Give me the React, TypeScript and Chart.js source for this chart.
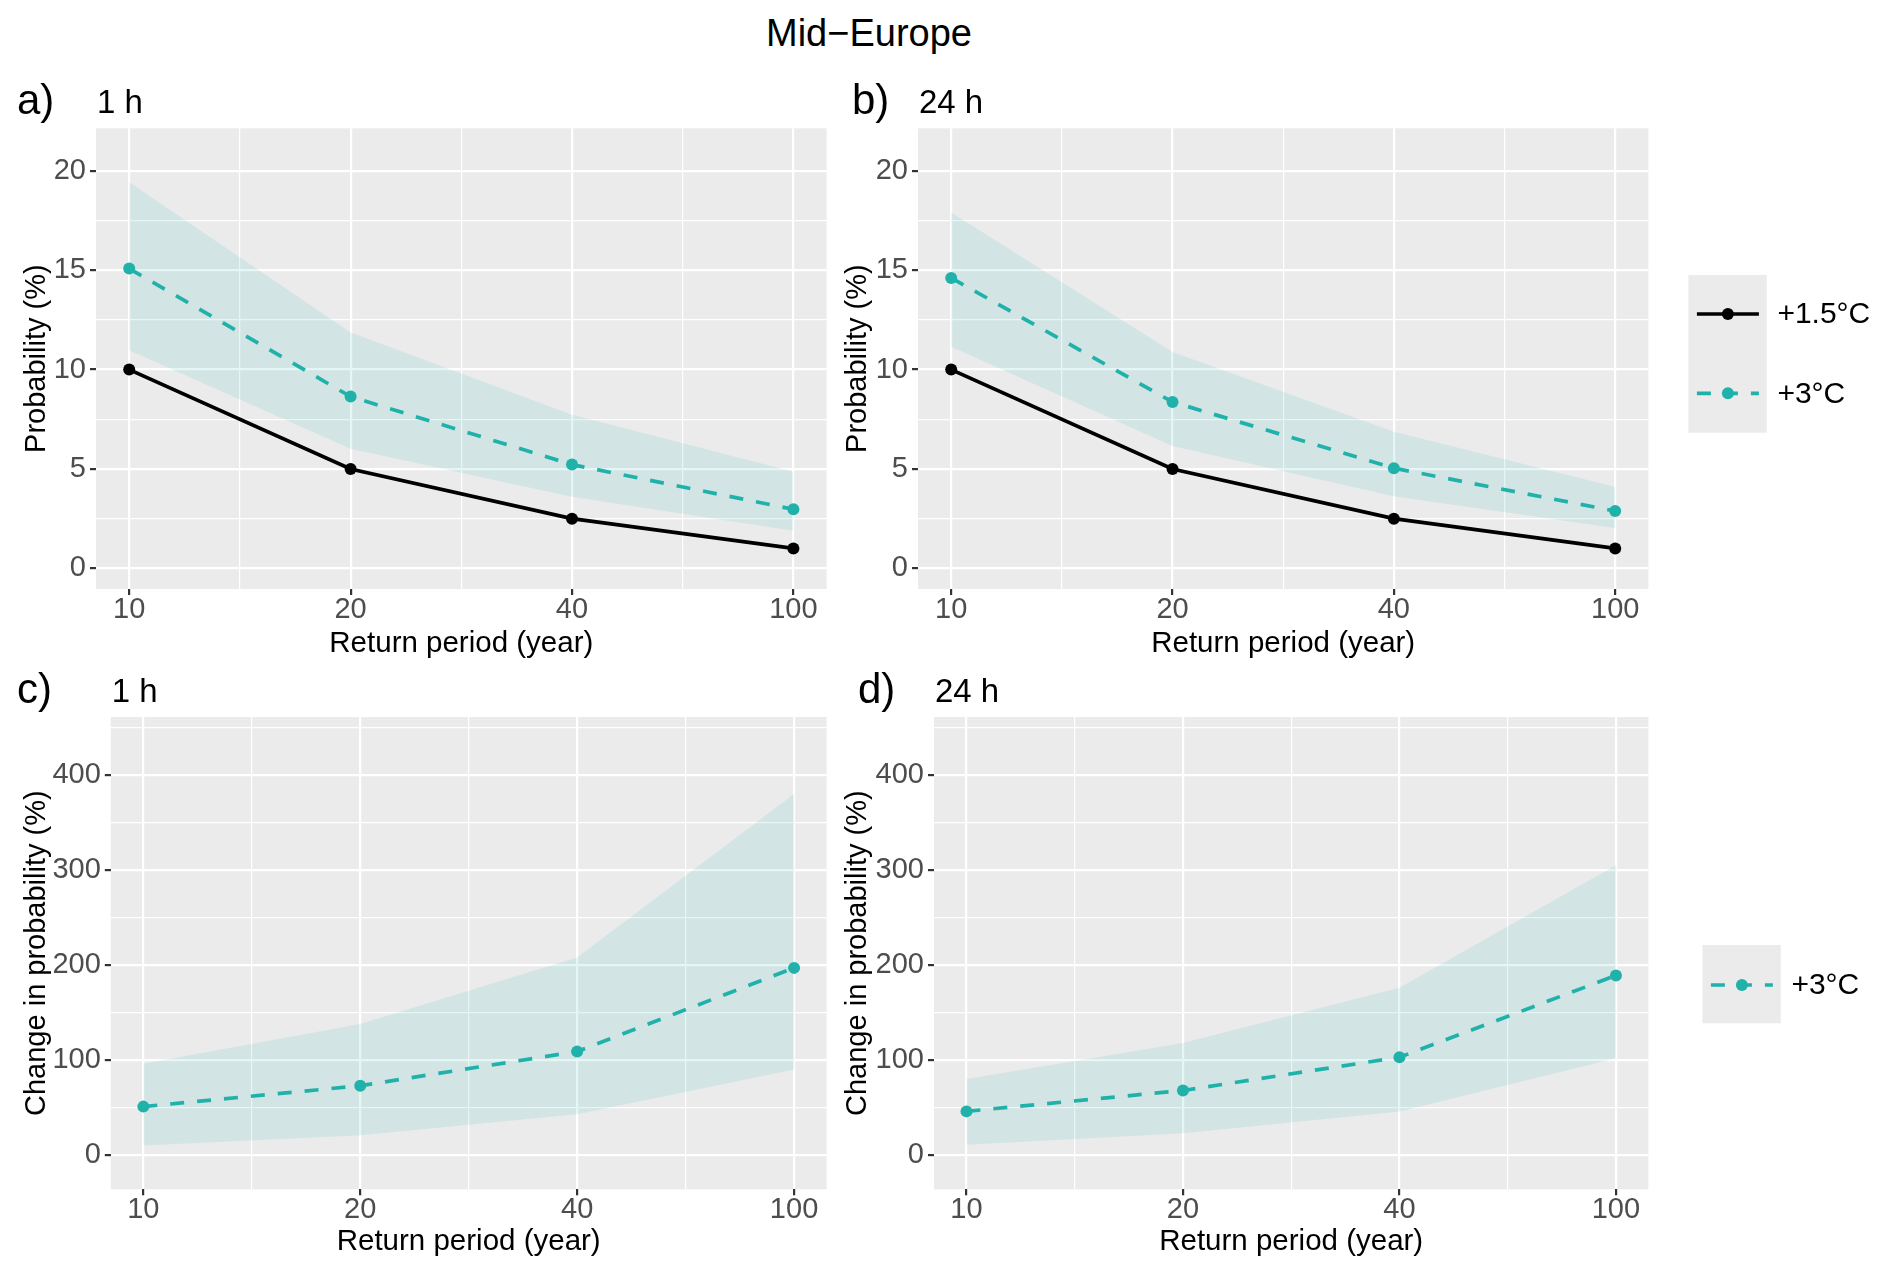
import React, { useEffect, useRef } from 'react';
import { Chart, registerables } from 'chart.js';

Chart.register(...registerables);

// ---------------- data ----------------
const returnPeriodLabels = ['10', '20', '40', '100'];
const xTickPositions = [1, 2, 3, 4];
const xMinorPositions = [1.5, 2.5, 3.5];

const probMajorTicks = [0, 5, 10, 15, 20];
const probMinorTicks = [2.5, 7.5, 12.5, 17.5];
const changeMajorTicks = [0, 100, 200, 300, 400];
const changeMinorTicks = [50, 150, 250, 350, 450];

const seriesLabels = ['+1.5°C', '+3°C'];

// probability (%) of exceedance in the +1.5°C reference world
const probBaseline = [10, 5, 2.5, 1];

// panel a) 1 h
const prob1hWarm = [15.08, 8.64, 5.22, 2.97];
const prob1hUpper = [19.43, 11.87, 7.73, 4.86];
const prob1hLower = [10.97, 6.02, 3.6, 1.89];

// panel b) 24 h
const prob24hWarm = [14.61, 8.37, 5.04, 2.88];
const prob24hUpper = [17.9, 10.88, 6.87, 4.09];
const prob24hLower = [11.15, 6.15, 3.63, 2.03];

// panel c) 1 h change in probability (%)
const change1hWarm = [51, 73, 109, 197];
const change1hUpper = [96, 138, 208, 380];
const change1hLower = [10, 21, 43, 90];

// panel d) 24 h change in probability (%)
const change24hWarm = [46, 68, 103, 189];
const change24hUpper = [80, 118, 176, 305];
const change24hLower = [11, 23, 46, 102];

// ---------------- style ----------------
const FONT = "'Liberation Sans', Arial, Helvetica, sans-serif";
const TEAL = '#20B2AA';
const RIBBON = 'rgba(32,178,170,0.12)';
const PANEL_BG = '#EBEBEB';
const TICK_TEXT = '#4D4D4D';

type LegendSpec = { dx: number; top: number; height: number; rows: number[]; items: number[] };

type PanelSpec = {
  key: string;
  x: number; y: number; w: number; h: number;
  tag: string; tagX: number; subtitle: string;
  padTop: number; padRight: number;
  yAxisWidth: number; yTitlePad: number;
  xAxisHeight: number; xTitlePad: number;
  yTitle: string; yMin: number; yMax: number;
  yMajor: number[]; yMinor: number[];
  datasets: any[];
  legend?: LegendSpec;
};

const toPoints = (vals: number[]) => vals.map((v, i) => ({ x: xTickPositions[i], y: v }));

function lineDs(label: string, vals: number[], color: string, dash: number[]) {
  return {
    label,
    data: toPoints(vals),
    borderColor: color,
    backgroundColor: color,
    borderWidth: 3.7,
    borderDash: dash,
    pointRadius: 6,
    pointHoverRadius: 6,
    pointBackgroundColor: color,
    pointBorderWidth: 0,
    fill: false,
    tension: 0,
  };
}

function ribbonDs(upper: number[], lower: number[]) {
  return [
    {
      label: 'upper',
      data: toPoints(upper),
      borderColor: 'rgba(0,0,0,0)',
      borderWidth: 0,
      pointRadius: 0,
      fill: '+1',
      backgroundColor: RIBBON,
      tension: 0,
    },
    {
      label: 'lower',
      data: toPoints(lower),
      borderColor: 'rgba(0,0,0,0)',
      borderWidth: 0,
      pointRadius: 0,
      fill: false,
      backgroundColor: RIBBON,
      tension: 0,
    },
  ];
}

const DASH = [14, 13];

const panels: PanelSpec[] = [
  {
    key: 'a', x: 0, y: 60, w: 840, h: 600,
    tag: 'a)', tagX: 17, subtitle: '1 h',
    padTop: 68.3, padRight: 13.4,
    yAxisWidth: 96, yTitlePad: 22.5,
    xAxisHeight: 71, xTitlePad: 0.9,
    yTitle: 'Probability (%)', yMin: -1.04, yMax: 22.14,
    yMajor: probMajorTicks, yMinor: probMinorTicks,
    datasets: [
      lineDs(seriesLabels[1], prob1hWarm, TEAL, DASH),
      lineDs(seriesLabels[0], probBaseline, '#000000', []),
      ...ribbonDs(prob1hUpper, prob1hLower),
    ],
  },
  {
    key: 'b', x: 840, y: 60, w: 1052, h: 600,
    tag: 'b)', tagX: 12, subtitle: '24 h',
    padTop: 68.3, padRight: 243.6,
    yAxisWidth: 78, yTitlePad: 3,
    xAxisHeight: 71, xTitlePad: 0.9,
    yTitle: 'Probability (%)', yMin: -1.04, yMax: 22.14,
    yMajor: probMajorTicks, yMinor: probMinorTicks,
    datasets: [
      lineDs(seriesLabels[1], prob24hWarm, TEAL, DASH),
      lineDs(seriesLabels[0], probBaseline, '#000000', []),
      ...ribbonDs(prob24hUpper, prob24hLower),
    ],
    legend: { dx: 40, top: 215, height: 157.7, rows: [254, 333.3], items: [1, 0] },
  },
  {
    key: 'c', x: 0, y: 660, w: 840, h: 616,
    tag: 'c)', tagX: 17, subtitle: '1 h',
    padTop: 57, padRight: 13.4,
    yAxisWidth: 110.8, yTitlePad: 22.8,
    xAxisHeight: 86.7, xTitlePad: 19,
    yTitle: 'Change in probability (%)', yMin: -36, yMax: 461,
    yMajor: changeMajorTicks, yMinor: changeMinorTicks,
    datasets: [
      lineDs(seriesLabels[1], change1hWarm, TEAL, DASH),
      ...ribbonDs(change1hUpper, change1hLower),
    ],
  },
  {
    key: 'd', x: 840, y: 660, w: 1052, h: 616,
    tag: 'd)', tagX: 18, subtitle: '24 h',
    padTop: 57, padRight: 243.6,
    yAxisWidth: 94, yTitlePad: 3,
    xAxisHeight: 86.7, xTitlePad: 19,
    yTitle: 'Change in probability (%)', yMin: -36, yMax: 461,
    yMajor: changeMajorTicks, yMinor: changeMinorTicks,
    datasets: [
      lineDs(seriesLabels[1], change24hWarm, TEAL, DASH),
      ...ribbonDs(change24hUpper, change24hLower),
    ],
    legend: { dx: 54, top: 285, height: 78.3, rows: [325], items: [0] },
  },
];

function makePlugin(spec: PanelSpec) {
  return {
    id: 'panelDecor' + spec.key,
    beforeDraw(chart: any) {
      const { ctx, chartArea: a } = chart;
      ctx.save();
      ctx.fillStyle = PANEL_BG;
      ctx.fillRect(a.left, a.top, a.right - a.left, a.bottom - a.top);
      ctx.restore();
    },
    afterDraw(chart: any) {
      const { ctx, chartArea: a } = chart;
      ctx.save();
      const baseline = a.top - 15;
      ctx.fillStyle = '#000';
      ctx.textBaseline = 'alphabetic';
      ctx.textAlign = 'left';
      ctx.font = `42px ${FONT}`;
      ctx.fillText(spec.tag, spec.tagX, baseline + 1);
      ctx.font = `33px ${FONT}`;
      ctx.fillText(spec.subtitle, a.left + 1, baseline);

      const lg = spec.legend;
      if (lg) {
        const bx = a.right + lg.dx;
        const bw = 78.4;
        ctx.fillStyle = PANEL_BG;
        ctx.fillRect(bx, lg.top, bw, lg.height);
        lg.items.forEach((dsIndex, r) => {
          const ds = chart.data.datasets[dsIndex];
          const y = lg.rows[r];
          ctx.save();
          ctx.strokeStyle = ds.borderColor;
          ctx.lineWidth = ds.borderWidth;
          ctx.setLineDash(ds.borderDash || []);
          ctx.beginPath();
          ctx.moveTo(bx + 8.5, y);
          ctx.lineTo(bx + 70.5, y);
          ctx.stroke();
          ctx.setLineDash([]);
          ctx.fillStyle = ds.pointBackgroundColor;
          ctx.beginPath();
          ctx.arc(bx + 39.5, y, ds.pointRadius, 0, Math.PI * 2);
          ctx.fill();
          ctx.restore();
          ctx.fillStyle = '#000';
          ctx.font = `30px ${FONT}`;
          ctx.textBaseline = 'middle';
          ctx.fillText(ds.label, bx + 89, y + 1);
        });
      }
      ctx.restore();
    },
  };
}

function buildConfig(spec: PanelSpec): any {
  const xAll = [...xTickPositions, ...xMinorPositions].sort((p, q) => p - q);
  const yAll = [...spec.yMajor, ...spec.yMinor].sort((p, q) => p - q);
  const isXMajor = (v: number) => xTickPositions.includes(v);
  const isYMajor = (v: number) => spec.yMajor.includes(v);
  const tickVal = (c: any) => (c && c.tick ? c.tick.value : NaN);

  return {
    type: 'line',
    data: { datasets: spec.datasets },
    options: {
      responsive: false,
      animation: false,
      events: [],
      layout: { padding: { left: 0, top: spec.padTop, right: spec.padRight, bottom: 0 } },
      plugins: {
        legend: { display: false },
        tooltip: { enabled: false },
        title: { display: false },
      },
      scales: {
        x: {
          type: 'linear',
          min: 0.85,
          max: 4.15,
          afterBuildTicks: (s: any) => {
            s.ticks = xAll.map((v) => ({ value: v }));
          },
          afterFit: (s: any) => {
            s.height = spec.xAxisHeight;
          },
          border: { display: false },
          grid: {
            color: '#FFFFFF',
            lineWidth: (c: any) => (isXMajor(tickVal(c)) ? 2.2 : 1.2),
            tickColor: (c: any) => (isXMajor(tickVal(c)) ? '#333333' : 'rgba(0,0,0,0)'),
            tickLength: 6,
            tickWidth: 2.2,
          },
          ticks: {
            autoSkip: false,
            maxRotation: 0,
            padding: 0,
            color: TICK_TEXT,
            font: { family: FONT, size: 29, lineHeight: 1 },
            callback: (v: number) => {
              const i = xTickPositions.indexOf(v);
              return i >= 0 ? returnPeriodLabels[i] : '';
            },
          },
          title: {
            display: true,
            text: 'Return period (year)',
            color: '#000',
            font: { family: FONT, size: 29.5, lineHeight: 1 },
            padding: { top: 0, bottom: spec.xTitlePad },
          },
        },
        y: {
          type: 'linear',
          min: spec.yMin,
          max: spec.yMax,
          afterBuildTicks: (s: any) => {
            s.ticks = yAll.map((v) => ({ value: v }));
          },
          afterFit: (s: any) => {
            s.width = spec.yAxisWidth;
          },
          border: { display: false },
          grid: {
            color: '#FFFFFF',
            lineWidth: (c: any) => (isYMajor(tickVal(c)) ? 2.2 : 1.2),
            tickColor: (c: any) => (isYMajor(tickVal(c)) ? '#333333' : 'rgba(0,0,0,0)'),
            tickLength: 6,
            tickWidth: 2.2,
          },
          ticks: {
            autoSkip: false,
            padding: 4,
            color: TICK_TEXT,
            font: { family: FONT, size: 29, lineHeight: 1 },
            callback: (v: number) => (spec.yMajor.includes(v) ? String(v) : ''),
          },
          title: {
            display: true,
            text: spec.yTitle,
            color: '#000',
            font: { family: FONT, size: 29, lineHeight: 1 },
            padding: { top: spec.yTitlePad, bottom: 0 },
          },
        },
      },
    },
    plugins: [makePlugin(spec)],
  };
}

function PanelChart({ spec }: { spec: PanelSpec }) {
  const ref = useRef<HTMLCanvasElement>(null);
  useEffect(() => {
    if (!ref.current) return;
    const chart = new Chart(ref.current, buildConfig(spec));
    return () => chart.destroy();
  }, [spec]);
  return (
    <canvas
      ref={ref}
      width={spec.w}
      height={spec.h}
      style={{ position: 'absolute', left: spec.x, top: spec.y, width: spec.w, height: spec.h }}
    />
  );
}

export default function App() {
  return (
    <div
      style={{
        position: 'fixed',
        left: 0,
        top: 0,
        width: 1892,
        height: 1276,
        background: '#FFFFFF',
        overflow: 'hidden',
      }}
    >
      <div
        style={{
          position: 'absolute',
          left: 0,
          top: 14,
          width: 1738,
          textAlign: 'center',
          fontFamily: FONT,
          fontSize: 38,
          lineHeight: '38px',
          color: '#000',
        }}
      >
        Mid−Europe
      </div>
      {panels.map((p) => (
        <PanelChart key={p.key} spec={p} />
      ))}
    </div>
  );
}
